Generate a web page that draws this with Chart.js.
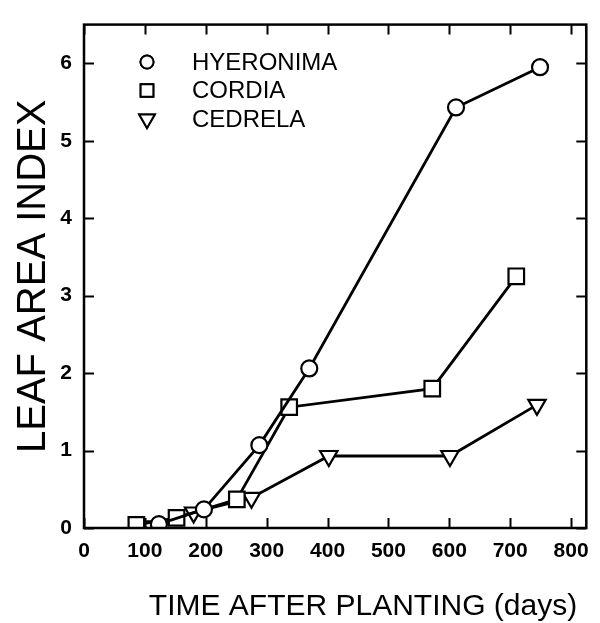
<!DOCTYPE html>
<html>
<head>
<meta charset="utf-8">
<script src="https://cdn.jsdelivr.net/npm/chart.js@4.4.1/dist/chart.umd.min.js"></script>
<style>
  html, body { margin: 0; padding: 0; background: #fff; }
</style>
</head>
<body>
<canvas id="laiChart" width="600" height="623"></canvas>
<script>
const seriesNames = ["HYERONIMA", "CORDIA", "CEDRELA"];
const hyeronimaDays = [123, 197, 288, 370, 611, 749];
const hyeronimaLai = [0.05, 0.24, 1.07, 2.06, 5.43, 5.95];
const cordiaDays = [86, 152, 251, 337, 572, 710];
const cordiaLai = [0.04, 0.13, 0.37, 1.56, 1.80, 3.25];
const cedrelaDays = [110, 180, 275, 402, 601, 744];
const cedrelaLai = [0.02, 0.20, 0.39, 0.93, 0.93, 1.59];
const xTicks = [0, 100, 200, 300, 400, 500, 600, 700, 800];
const yTicks = [0, 1, 2, 3, 4, 5, 6];

const FONT = "'Liberation Sans', Arial, sans-serif";

const toPoints = (xs, ys) => xs.map((x, i) => ({ x, y: ys[i] }));

const baseSet = {
  borderColor: "#000",
  borderWidth: 2.8,
  pointBackgroundColor: "#fff",
  pointBorderColor: "#000",
  pointBorderWidth: 2.2,
  fill: false,
  tension: 0
};

// cadre, petits traits vers l'interieur, legende et titre de l'axe x
const framePlugin = {
  id: "frame",
  afterDraw(chart) {
    const { ctx, chartArea: a, scales } = chart;
    const tick = 10;
    ctx.save();
    ctx.strokeStyle = "#000";
    ctx.lineWidth = 2;
    ctx.beginPath();
    scales.x.ticks.forEach((t) => {
      const px = Math.round(scales.x.getPixelForValue(t.value)) + 0.5;
      ctx.moveTo(px, a.bottom); ctx.lineTo(px, a.bottom - tick);
      ctx.moveTo(px, a.top); ctx.lineTo(px, a.top + tick);
    });
    scales.y.ticks.forEach((t) => {
      const py = Math.round(scales.y.getPixelForValue(t.value)) + 0.5;
      ctx.moveTo(a.left, py); ctx.lineTo(a.left + tick, py);
      ctx.moveTo(a.right, py); ctx.lineTo(a.right - tick, py);
    });
    ctx.stroke();
    ctx.lineWidth = 2.5;
    ctx.strokeRect(a.left, a.top, a.right - a.left, a.bottom - a.top);

    // legende dans le coin superieur gauche
    ctx.font = "24px " + FONT;
    ctx.textBaseline = "middle";
    chart.data.datasets.forEach((ds, i) => {
      const y = 62 + i * 28.5;
      ctx.lineWidth = 2;
      ctx.fillStyle = "#fff";
      Chart.helpers.drawPoint(ctx, {
        pointStyle: ds.pointStyle,
        radius: ds.pointStyle === "circle" ? 6.5 : 9,
        rotation: ds.pointRotation || 0,
        borderWidth: 2
      }, 147, y);
      ctx.fill();
      ctx.stroke();
      ctx.fillStyle = "#000";
      ctx.fillText(ds.label, 192, y + 1);
    });

    const xt = chart.options.scales.x.title;
    ctx.font = "30px " + FONT;
    ctx.textAlign = "center";
    ctx.fillText(xt.text, 363, 607);
    ctx.restore();
  }
};

new Chart(document.getElementById("laiChart"), {
  type: "line",
  data: {
    datasets: [
      { ...baseSet, label: seriesNames[0], data: toPoints(hyeronimaDays, hyeronimaLai), pointStyle: "circle", pointRadius: 8 },
      { ...baseSet, label: seriesNames[1], data: toPoints(cordiaDays, cordiaLai), pointStyle: "rect", pointRadius: 11 },
      { ...baseSet, label: seriesNames[2], data: toPoints(cedrelaDays, cedrelaLai), pointStyle: "triangle", pointRotation: 180, pointRadius: 10 }
    ]
  },
  options: {
    responsive: false,
    animation: false,
    layout: { padding: { top: 15, right: 7, left: 0, bottom: 0 } },
    plugins: {
      legend: { display: false },
      tooltip: { enabled: false }
    },
    scales: {
      x: {
        type: "linear",
        min: 0,
        max: 825,
        afterBuildTicks: (s) => { s.ticks = xTicks.map((v) => ({ value: v })); },
        afterFit: (s) => { s.height = 95; },
        grid: { display: false, drawTicks: false },
        border: { display: false },
        ticks: { color: "#000", padding: 11, maxRotation: 0, font: { family: FONT, size: 21, weight: "bold" } },
        title: { display: false, text: "TIME AFTER PLANTING (days)" }
      },
      y: {
        min: 0,
        max: 6.5,
        afterBuildTicks: (s) => { s.ticks = yTicks.map((v) => ({ value: v })); },
        afterFit: (s) => { s.width = 84; },
        grid: { display: false, drawTicks: false },
        border: { display: false },
        ticks: { color: "#000", padding: 12, font: { family: FONT, size: 21, weight: "bold" } },
        title: {
          display: true,
          text: "LEAF AREA INDEX",
          color: "#000",
          padding: { top: 10, bottom: 0 },
          font: { family: FONT, size: 40 }
        }
      }
    }
  },
  plugins: [framePlugin]
});
</script>
</body>
</html>
